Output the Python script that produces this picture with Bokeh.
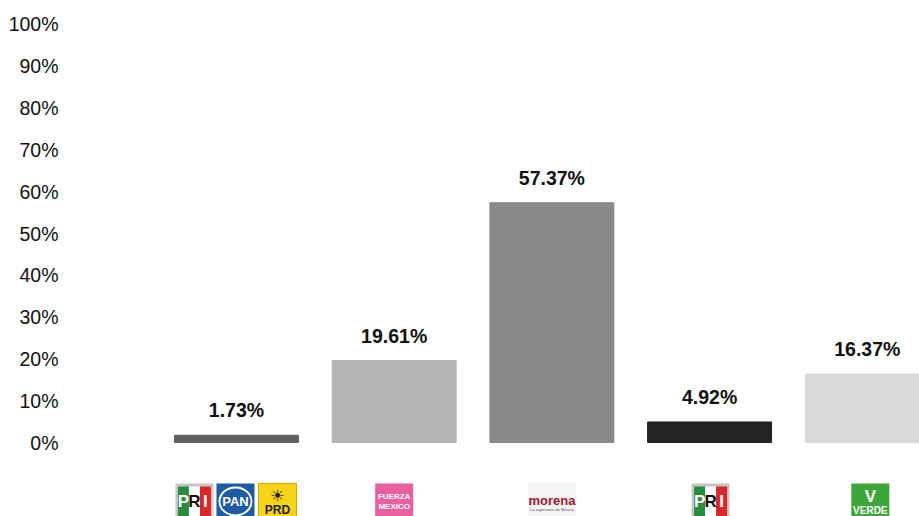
from bokeh.plotting import figure
from bokeh.models import Range1d, FixedTicker, ColumnDataSource
from bokeh.core.properties import value
from bokeh.embed import file_html
from bokeh.resources import INLINE

# ---------------- data ----------------
parties = ["PAN-PRI-PRD", "Fuerza por México", "Morena", "PRI", "PVEM"]
shares = [1.73, 19.61, 57.37, 4.92, 16.37]
bar_colors = ["#5f5f5f", "#b3b3b3", "#8a8a8a", "#232323", "#d9d9d9"]
y_ticks = [0, 10, 20, 30, 40, 50, 60, 70, 80, 90, 100]
y_tick_labels = [f"{t}%" for t in y_ticks]

FONT = "Liberation Sans"

xs = list(range(len(parties)))
src = ColumnDataSource(dict(
    x=xs, top=shares, color=bar_colors,
    label=[f"{v:.2f}%" for v in shares],
))

p = figure(width=919, height=516, output_backend="svg", toolbar_location=None,
           x_range=Range1d(-1.084, 4.331), y_range=Range1d(-17.7, 105.74),
           min_border_left=65, min_border_right=0, min_border_top=0, min_border_bottom=0)
p.outline_line_color = None
p.grid.visible = False
p.xaxis.visible = False
p.background_fill_color = "white"
p.border_fill_color = "white"

ya = p.yaxis[0]
ya.ticker = FixedTicker(ticks=y_ticks)
ya.major_label_overrides = {t: l for t, l in zip(y_ticks, y_tick_labels)}
ya.axis_line_color = None
ya.major_tick_line_color = None
ya.minor_tick_line_color = None
ya.major_tick_out = 0
ya.major_tick_in = 0
ya.major_label_standoff = 7
ya.major_label_text_font = FONT
ya.major_label_text_font_size = "19.5px"
ya.major_label_text_color = "#111111"

p.vbar(x="x", top="top", bottom=0, width=0.786, color="color", source=src)
p.text(x="x", y="top", text="label", source=src, y_offset=-25,
       text_align="center", text_baseline="middle",
       text_font=value(FONT), text_font_style="bold",
       text_font_size="19.5px", text_color="#111111")

# ---------------- party logos (drawn approximations) ----------------
PX = 1 / 157.7       # data units per screen pixel along x
LY = -14.1           # logo centre (data y)


def rect(cx, dx, w, h, color, line=None, dy=0.0):
    p.rect(x=[cx + dx * PX], y=[LY + dy], width=w, height=h,
           width_units="screen", height_units="screen",
           fill_color=color, line_color=line)


def txt(cx, s, color, size, dx=0, dy=0, bold=True, font=FONT):
    p.text(x=[cx], y=[LY], text=[s], x_offset=dx, y_offset=dy,
           text_align="center", text_baseline="middle",
           text_font=value(font), text_font_style="bold" if bold else "normal",
           text_font_size=size, text_color=color)


def pri(cx, dx):
    c = cx + dx * PX
    rect(c, 0, 38, 36, "#c6c6c6")
    for o, col in zip((-11, 0, 11), ("#2a8a3f", "#ffffff", "#d8282a")):
        rect(c, o, 11, 30, col)
    for o, ch, col in zip((-11, 0, 11), "PRI", ("#ffffff", "#111111", "#ffffff")):
        txt(c, ch, col, "17px", dx=o)


def pan(cx, dx):
    c = cx + dx * PX
    rect(c, 0, 38, 36, "#1e5aa6")
    p.ellipse(x=[c], y=[LY], width=32, height=28, width_units="screen",
              height_units="screen", fill_color=None, line_color="white", line_width=2)
    txt(c, "PAN", "#ffffff", "13px")


def prd(cx, dx):
    c = cx + dx * PX
    rect(c, 0, 38, 36, "#f6d316", line="#c9a900")
    txt(c, "☀", "#222222", "16px", dy=-6, bold=False, font="DejaVu Sans")
    txt(c, "PRD", "#222222", "12px", dy=9)


def fuerza(cx, dx):
    c = cx + dx * PX
    rect(c, 0, 38, 36, "#ea5fa0")
    txt(c, "FUERZA", "#ffffff", "8px", dy=-5)
    txt(c, "MEXICO", "#ffffff", "8px", dy=5)


def morena(cx, dx):
    c = cx + dx * PX
    rect(c, 0, 48, 38, "#f4f4f4")
    txt(c, "morena", "#a3172d", "13px", dy=-1, font="Liberation Sans")
    txt(c, "La esperanza de México", "#555555", "4px", dy=8, bold=False)


def verde(cx, dx):
    c = cx + dx * PX
    rect(c, 0, 38, 36, "#3da63a")
    txt(c, "V", "#ffffff", "17px", dy=-5)
    txt(c, "VERDE", "#ffffff", "10px", dy=9)


logo_parts = [
    (0, -42, pri), (0, -1, pan), (0, 41, prd),
    (1, 0, fuerza), (2, 0, morena), (3, 1, pri), (4, 3, verde),
]
for ci, dx, fn in logo_parts:
    fn(xs[ci], dx)

open("out.html", "w").write(file_html(p, INLINE))
